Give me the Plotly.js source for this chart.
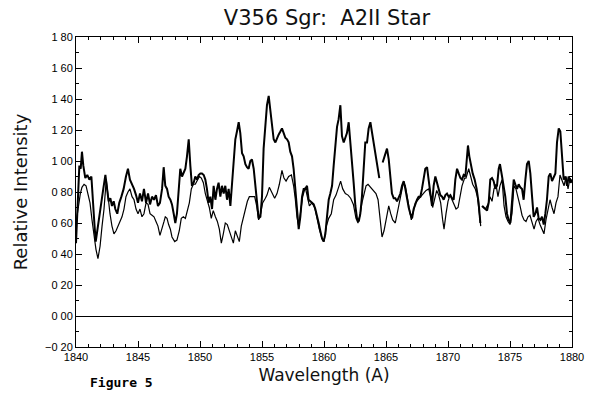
<!DOCTYPE html>
<html>
<head>
<meta charset="utf-8">
<script src="https://cdn.plot.ly/plotly-3.0.1.min.js"></script>
<style>html,body{margin:0;padding:0;background:#fff;}#chart{width:600px;height:400px;}</style>
</head>
<body>
<div id="chart"></div>
<script>
// Thick spectrum (series A)
const waveA = [1840.00,1840.16,1840.27,1840.38,1840.48,1840.59,1840.75,1840.91,1841.08,1841.24,1841.37,1841.48,1841.59,1841.72,1841.88,1842.04,1842.20,1842.37,1842.50,1842.63,1842.77,1842.90,1843.04,1843.17,1843.33,1843.49,1843.66,1843.84,1844.03,1844.19,1844.35,1844.52,1844.68,1844.84,1845.00,1845.16,1845.32,1845.48,1845.65,1845.81,1845.97,1846.13,1846.29,1846.45,1846.61,1846.77,1846.94,1847.07,1847.20,1847.34,1847.47,1847.61,1847.74,1847.88,1848.01,1848.14,1848.28,1848.41,1848.55,1848.68,1848.82,1848.95,1849.09,1849.22,1849.35,1849.49,1849.62,1849.76,1849.89,1850.03,1850.16,1850.30,1850.43,1850.56,1850.70,1850.83,1850.97,1851.10,1851.24,1851.37,1851.50,1851.64,1851.77,1851.91,1852.04,1852.18,1852.31,1852.45,1852.58,1852.71,1852.85,1852.98,1853.12,1853.25,1853.39,1853.52,1853.66,1853.79,1853.92,1854.06,1854.19,1854.33,1854.46,1854.60,1854.73,1854.87,1855.00,1855.13,1855.27,1855.40,1855.54,1855.67,1855.81,1855.94,1856.08,1856.21,1856.34,1856.48,1856.61,1856.75,1856.88,1857.02,1857.15,1857.28,1857.42,1857.55,1857.69,1857.82,1857.96,1858.09,1858.23,1858.36,1858.49,1858.63,1858.76,1858.90,1859.03,1859.17,1859.30,1859.44,1859.57,1859.70,1859.84,1859.97,1860.11,1860.24,1860.38,1860.51,1860.65,1860.78,1860.91,1861.05,1861.18,1861.32,1861.45,1861.59,1861.72,1861.85,1861.99,1862.12,1862.26,1862.39,1862.53,1862.66,1862.80,1862.93,1863.06,1863.20,1863.33,1863.47,1863.60,1863.74,1863.87,1864.01,1864.14,1864.27,1864.46,1864.58,1864.73,1864.89,1865.08,1865.22,1865.35,1865.48,1865.62,1865.75,1865.89,1866.02,1866.16,1866.29,1866.43,1866.56,1866.69,1866.83,1866.96,1867.10,1867.23,1867.37,1867.50,1867.63,1867.77,1867.90,1868.04,1868.17,1868.31,1868.44,1868.58,1868.71,1868.84,1868.98,1869.11,1869.25,1869.38,1869.52,1869.65,1869.79,1869.92,1870.05,1870.19,1870.32,1870.46,1870.59,1870.73,1870.86,1871.00,1871.13,1871.26,1871.40,1871.51,1871.61,1871.72,1871.86,1871.99,1872.15,1872.31,1872.47,1872.61,1872.68,1872.74,1872.88,1873.01,1873.15,1873.28,1873.41,1873.55,1873.68,1873.82,1873.95,1874.09,1874.19,1874.36,1874.49,1874.62,1874.76,1874.89,1875.03,1875.16,1875.30,1875.43,1875.57,1875.70,1875.83,1875.97,1876.10,1876.24,1876.37,1876.51,1876.64,1876.78,1876.91,1877.04,1877.18,1877.31,1877.45,1877.58,1877.72,1877.85,1877.98,1878.12,1878.25,1878.39,1878.52,1878.66,1878.79,1878.93,1879.06,1879.19,1879.33,1879.46,1879.60,1879.73,1879.87,1880.00];
const intensA = [0.47,0.75,0.97,0.95,1.06,0.97,0.89,0.91,0.88,0.90,0.77,0.60,0.48,0.56,0.66,0.73,0.82,0.91,0.84,0.74,0.76,0.71,0.74,0.69,0.66,0.73,0.77,0.82,0.90,0.95,0.88,0.85,0.82,0.78,0.73,0.79,0.74,0.82,0.73,0.79,0.72,0.77,0.75,0.78,0.71,0.73,0.82,0.96,0.84,0.82,0.77,0.75,0.72,0.66,0.60,0.66,0.79,0.95,0.90,0.92,0.95,1.03,1.14,0.97,0.84,0.86,0.90,0.88,0.91,0.92,0.92,0.91,0.88,0.82,0.73,0.77,0.69,0.84,0.75,0.82,0.86,0.77,0.84,0.79,0.84,0.75,0.82,0.71,0.86,1.03,1.14,1.19,1.25,1.18,1.05,1.03,0.98,0.96,0.95,1.00,1.01,0.95,0.84,0.73,0.63,0.64,0.77,1.08,1.25,1.36,1.42,1.34,1.25,1.14,1.12,1.15,1.17,1.19,1.21,1.18,1.15,1.14,1.12,1.06,1.03,0.95,0.82,0.66,0.56,0.64,0.77,0.82,0.82,0.84,0.75,0.74,0.73,0.72,0.69,0.65,0.60,0.55,0.50,0.48,0.53,0.64,0.75,0.79,0.84,0.97,1.12,1.22,1.27,1.36,1.16,1.12,1.15,1.18,1.25,1.14,1.01,0.86,0.71,0.63,0.61,0.66,0.77,0.92,1.12,1.12,1.21,1.25,1.18,1.12,1.03,0.98,0.89,null,0.99,1.04,1.08,1.01,0.90,0.79,0.76,0.76,0.74,0.77,0.79,0.84,0.87,0.82,0.75,0.70,0.66,0.63,0.69,0.73,0.75,0.77,0.77,0.82,0.88,0.95,0.96,0.89,0.79,0.71,0.84,0.90,0.86,0.82,0.78,0.77,0.75,0.78,0.79,0.77,0.78,0.76,0.75,0.88,0.95,0.92,0.89,0.88,0.91,0.90,0.99,1.10,1.03,0.97,0.92,0.88,0.82,0.73,0.60,null,0.71,0.70,0.69,0.68,0.73,0.88,0.89,0.87,0.82,0.84,0.95,0.98,0.90,0.84,0.77,0.66,0.62,0.60,0.75,0.88,0.85,0.82,0.85,0.83,0.82,0.75,0.88,0.98,1.00,0.92,0.77,0.64,0.66,0.70,0.63,0.62,0.64,0.59,0.66,0.75,0.90,0.92,0.87,0.90,0.92,1.12,1.21,1.19,1.03,0.88,0.90,0.84,0.90,0.86,0.88];

// Thin spectrum (series B)
const waveB = [1840.00,1840.22,1840.35,1840.48,1840.65,1840.81,1840.97,1841.13,1841.29,1841.45,1841.61,1841.77,1841.94,1842.10,1842.26,1842.44,1842.58,1842.74,1842.90,1843.06,1843.23,1843.39,1843.55,1843.71,1843.87,1844.03,1844.19,1844.35,1844.52,1844.68,1844.84,1845.00,1845.16,1845.32,1845.48,1845.65,1845.81,1845.97,1846.13,1846.29,1846.45,1846.61,1846.77,1846.94,1847.10,1847.20,1847.34,1847.47,1847.61,1847.74,1847.96,1848.14,1848.33,1848.49,1848.66,1848.82,1848.98,1849.14,1849.30,1849.46,1849.62,1849.78,1849.95,1850.11,1850.27,1850.43,1850.59,1850.75,1850.91,1851.07,1851.24,1851.40,1851.56,1851.72,1851.88,1852.04,1852.20,1852.37,1852.53,1852.69,1852.85,1853.01,1853.17,1853.33,1853.49,1853.66,1853.82,1853.98,1854.19,1854.41,1854.57,1854.73,1854.89,1855.05,1855.27,1855.40,1855.59,1855.81,1856.02,1856.21,1856.40,1856.61,1856.77,1856.94,1857.15,1857.37,1857.55,1857.69,1857.82,1857.96,1858.12,1858.28,1858.49,1858.66,1858.82,1859.03,1859.25,1859.44,1859.62,1859.84,1860.00,1860.19,1860.38,1860.59,1860.78,1860.97,1861.18,1861.34,1861.51,1861.72,1861.94,1862.15,1862.37,1862.58,1862.74,1862.90,1863.06,1863.23,1863.39,1863.55,1863.76,1863.98,1864.19,1864.36,1864.52,1864.68,1864.84,1865.00,1865.22,1865.38,1865.54,1865.75,1865.91,1866.08,1866.24,1866.40,1866.56,1866.72,1866.88,1867.04,1867.20,1867.37,1867.58,1867.80,1868.01,1868.23,1868.44,1868.60,1868.76,1868.92,1869.09,1869.25,1869.41,1869.57,1869.68,1869.84,1870.00,1870.16,1870.32,1870.48,1870.65,1870.81,1870.97,1871.13,1871.34,1871.45,1871.67,1871.83,1871.99,1872.20,1872.37,1872.53,1872.64,1872.72,1872.80,1873.01,1873.23,1873.39,1873.55,1873.71,1873.87,1874.03,1874.19,1874.36,1874.52,1874.68,1874.84,1875.00,1875.16,1875.32,1875.48,1875.65,1875.81,1875.97,1876.13,1876.29,1876.45,1876.61,1876.78,1876.94,1877.10,1877.26,1877.42,1877.58,1877.74,1877.90,1878.06,1878.23,1878.39,1878.55,1878.71,1878.87,1879.03,1879.19,1879.36,1879.52,1879.68,1879.84,1880.00];
const intensB = [0.60,0.73,0.79,0.83,0.85,0.84,0.79,0.73,0.62,0.51,0.43,0.37,0.45,0.58,0.69,0.88,0.77,0.66,0.58,0.53,0.55,0.58,0.61,0.64,0.69,0.77,0.80,0.82,0.77,0.75,0.69,0.66,0.69,0.64,0.66,0.73,0.72,0.66,0.65,0.64,0.61,0.58,0.52,0.56,0.61,0.64,0.63,0.59,0.56,0.51,0.48,0.49,0.55,0.63,0.64,0.63,0.68,0.73,0.82,0.85,0.85,0.87,0.90,0.89,0.86,0.79,0.74,0.70,0.63,0.68,0.64,0.61,0.56,0.47,0.53,0.60,0.59,0.55,0.51,0.47,0.55,0.51,0.48,0.58,0.63,0.69,0.74,0.77,0.77,0.77,0.71,0.62,0.66,0.73,0.76,0.78,0.83,0.79,0.76,0.79,0.85,0.94,0.89,0.87,0.90,0.91,0.84,0.75,0.64,0.58,0.69,0.77,0.83,0.77,0.71,0.73,0.70,0.63,0.56,0.50,0.48,0.58,0.63,0.66,0.75,0.78,0.84,0.87,0.82,0.79,0.78,0.76,0.72,0.63,0.60,0.65,0.73,0.79,0.84,0.85,0.83,0.81,0.79,0.75,0.62,0.51,0.55,0.63,0.71,0.66,0.62,0.60,0.66,0.72,0.79,0.86,0.84,0.75,0.69,0.62,0.68,0.73,0.75,0.77,0.79,0.81,0.82,0.77,0.70,0.75,0.81,0.78,0.73,0.62,0.56,0.66,0.74,0.78,0.75,0.72,0.69,0.70,0.77,0.84,0.89,0.89,0.95,0.90,0.85,0.82,0.77,0.66,0.58,null,0.71,0.69,0.72,0.77,0.74,0.82,0.85,0.77,0.84,0.88,0.71,0.64,0.61,0.59,0.66,0.84,0.82,0.77,0.71,0.65,0.62,0.61,0.64,0.65,0.61,0.56,0.61,0.63,0.59,0.56,0.53,0.62,0.69,0.75,0.70,0.66,0.73,0.77,0.91,0.87,0.84,0.90,0.82,0.89,0.86];

const yTickVals = [-0.2,0.0,0.2,0.4,0.6,0.8,1.0,1.2,1.4,1.6,1.8];
const yTickText = ["\u22120 20","0 00","0 20","0 40","0 60","0 80","1 00","1 20","1 40","1 60","1 80"];
const xTickVals = [1840,1845,1850,1855,1860,1865,1870,1875,1880];

const traces = [
  {x: waveA, y: intensA, type: 'scatter', mode: 'lines', line: {color: '#000', width: 2}, connectgaps: false, hoverinfo: 'skip'},
  {x: waveB, y: intensB, type: 'scatter', mode: 'lines', line: {color: '#000', width: 1.2}, connectgaps: false, hoverinfo: 'skip'}
];

const layout = {
  width: 600, height: 400,
  margin: {l: 76, r: 28, t: 37, b: 53},
  paper_bgcolor: '#fff', plot_bgcolor: '#fff',
  showlegend: false,
  font: {family: 'Liberation Sans, Arial, sans-serif', color: '#000', size: 11},
  title: {text: 'V356 Sgr:  A2II Star', font: {family: 'DejaVu Sans, sans-serif', size: 21, color: '#111'},
          x: 0.545, xanchor: 'center', y: 0.955, yanchor: 'middle', xref: 'container', yref: 'container'},
  xaxis: {
    range: [1840, 1880], tickvals: xTickVals, ticks: 'inside', ticklen: 6, tickcolor: '#000',
    minor: {dtick: 1, ticks: 'inside', ticklen: 3, tickcolor: '#000'},
    showline: true, linecolor: '#000', linewidth: 1, mirror: 'allticks', showgrid: false, zeroline: false,
    tickfont: {size: 11},
    title: {text: 'Wavelength (A)', font: {family: 'DejaVu Sans, sans-serif', size: 17, color: '#111'}, standoff: 6}
  },
  yaxis: {
    range: [-0.2, 1.8], tickvals: yTickVals, ticktext: yTickText, ticks: 'inside', ticklen: 6, tickcolor: '#000',
    minor: {dtick: 0.1, ticks: 'inside', ticklen: 3, tickcolor: '#000'},
    showline: true, linecolor: '#000', linewidth: 1, mirror: 'allticks', showgrid: false,
    zeroline: true, zerolinecolor: '#000', zerolinewidth: 1,
    tickfont: {size: 11},
    title: {text: 'Relative Intensity', font: {family: 'DejaVu Sans, sans-serif', size: 18, color: '#111'}, standoff: 12}
  },
  annotations: [
    {text: '<b>Figure 5</b>', xref: 'paper', yref: 'paper', x: 0.024, y: -0.116, xanchor: 'left', yanchor: 'middle',
     showarrow: false, font: {family: 'DejaVu Sans Mono, monospace', size: 13, color: '#000'}}
  ]
};

Plotly.newPlot('chart', traces, layout, {staticPlot: true, displayModeBar: false});
</script>
</body>
</html>
